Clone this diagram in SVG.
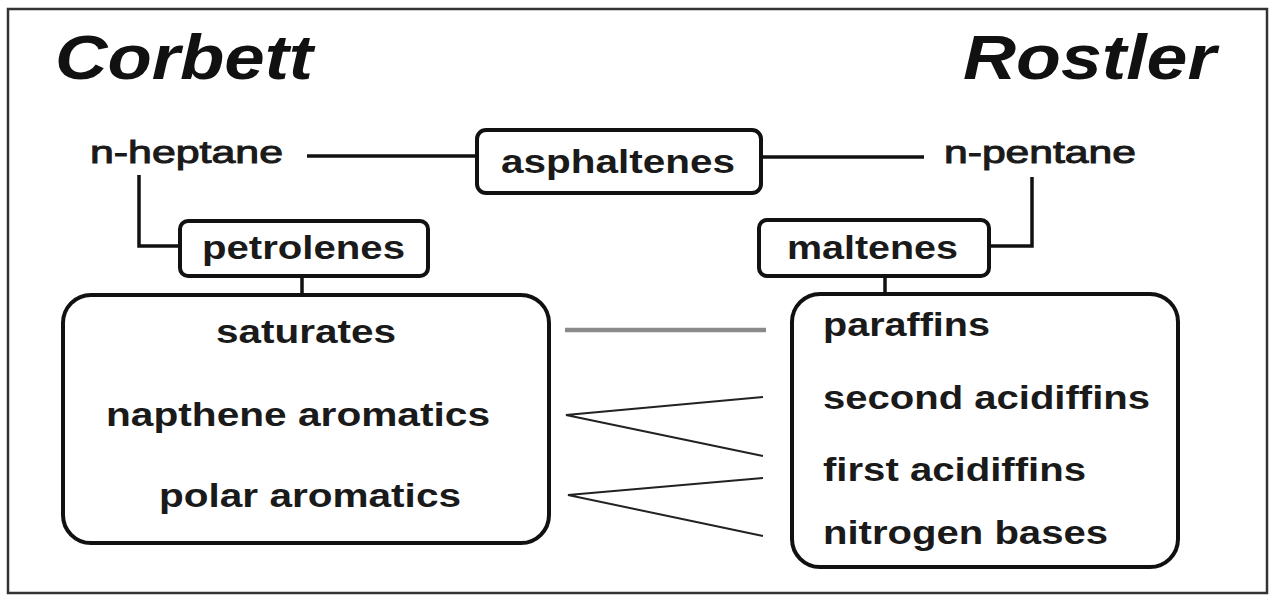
<svg xmlns="http://www.w3.org/2000/svg" width="1270" height="597" viewBox="0 0 1270 597">
<style>
.frame{fill:#fff;stroke:#333;stroke-width:2.5}
.box{fill:#fff;stroke:#111;stroke-width:4}
.big{fill:#fff;stroke:#111;stroke-width:4}
.ln{fill:none;stroke:#111;stroke-width:3.5}
.thin{fill:none;stroke:#222;stroke-width:2}
.gray{fill:none;stroke:#8a8a8a;stroke-width:4.5}
.t{font-family:"Liberation Sans",Arial,sans-serif;font-size:33px;font-weight:bold;fill:#1a1a1a}
.r{font-family:"Liberation Sans",Arial,sans-serif;font-size:32px;font-weight:normal;fill:#1a1a1a;stroke:#1a1a1a;stroke-width:1}
.h{font-family:"Liberation Sans",Arial,sans-serif;font-size:63px;font-weight:bold;font-style:italic;fill:#111}
</style>
<rect class="frame" x="8" y="9" width="1259" height="584"/>
<g id="title-corbett"><text class="h" x="55" y="79" textLength="258" lengthAdjust="spacingAndGlyphs">Corbett</text></g>
<g id="title-rostler"><text class="h" x="963" y="79" textLength="253" lengthAdjust="spacingAndGlyphs">Rostler</text></g>
<g id="connectors">
<line class="ln" x1="307" y1="156" x2="477" y2="156"/>
<line class="ln" x1="761" y1="157" x2="924" y2="157"/>
<polyline class="ln" points="139,175 139,246 180,246"/>
<polyline class="ln" points="1032,177 1032,246 989,246"/>
<line class="ln" x1="302" y1="276" x2="302" y2="295"/>
<line class="ln" x1="885" y1="276" x2="885" y2="293"/>
<line class="gray" x1="565" y1="330" x2="766" y2="330"/>
<polyline class="thin" points="763,397 566,415 763,456"/>
<polyline class="thin" points="763,478 568,495 763,536"/>
</g>
<g id="n-heptane"><text class="r" x="90" y="163" textLength="193" lengthAdjust="spacingAndGlyphs">n-heptane</text></g>
<g id="n-pentane"><text class="r" x="944" y="163" textLength="192" lengthAdjust="spacingAndGlyphs">n-pentane</text></g>
<g id="asphaltenes">
<rect class="box" x="477" y="130" width="284" height="63" rx="9"/>
<text class="t" x="501" y="173" textLength="234" lengthAdjust="spacingAndGlyphs">asphaltenes</text>
</g>
<g id="petrolenes">
<rect class="box" x="180" y="221" width="248" height="55" rx="8"/>
<text class="t" x="202" y="259" textLength="203" lengthAdjust="spacingAndGlyphs">petrolenes</text>
</g>
<g id="maltenes">
<rect class="box" x="759" y="220" width="230" height="56" rx="8"/>
<text class="t" x="787" y="259" textLength="171" lengthAdjust="spacingAndGlyphs">maltenes</text>
</g>
<g id="corbett-fractions">
<rect class="big" x="63" y="295" width="486" height="248" rx="28"/>
<text class="t" x="216" y="343" textLength="180" lengthAdjust="spacingAndGlyphs">saturates</text>
<text class="t" x="106" y="426" textLength="384" lengthAdjust="spacingAndGlyphs">napthene aromatics</text>
<text class="t" x="159" y="507" textLength="302" lengthAdjust="spacingAndGlyphs">polar aromatics</text>
</g>
<g id="rostler-fractions">
<rect class="big" x="792" y="294" width="386" height="273" rx="28"/>
<text class="t" x="823" y="336" textLength="167" lengthAdjust="spacingAndGlyphs">paraffins</text>
<text class="t" x="823" y="409" textLength="327" lengthAdjust="spacingAndGlyphs">second acidiffins</text>
<text class="t" x="823" y="481" textLength="263" lengthAdjust="spacingAndGlyphs">first acidiffins</text>
<text class="t" x="823" y="544" textLength="285" lengthAdjust="spacingAndGlyphs">nitrogen bases</text>
</g>
</svg>
